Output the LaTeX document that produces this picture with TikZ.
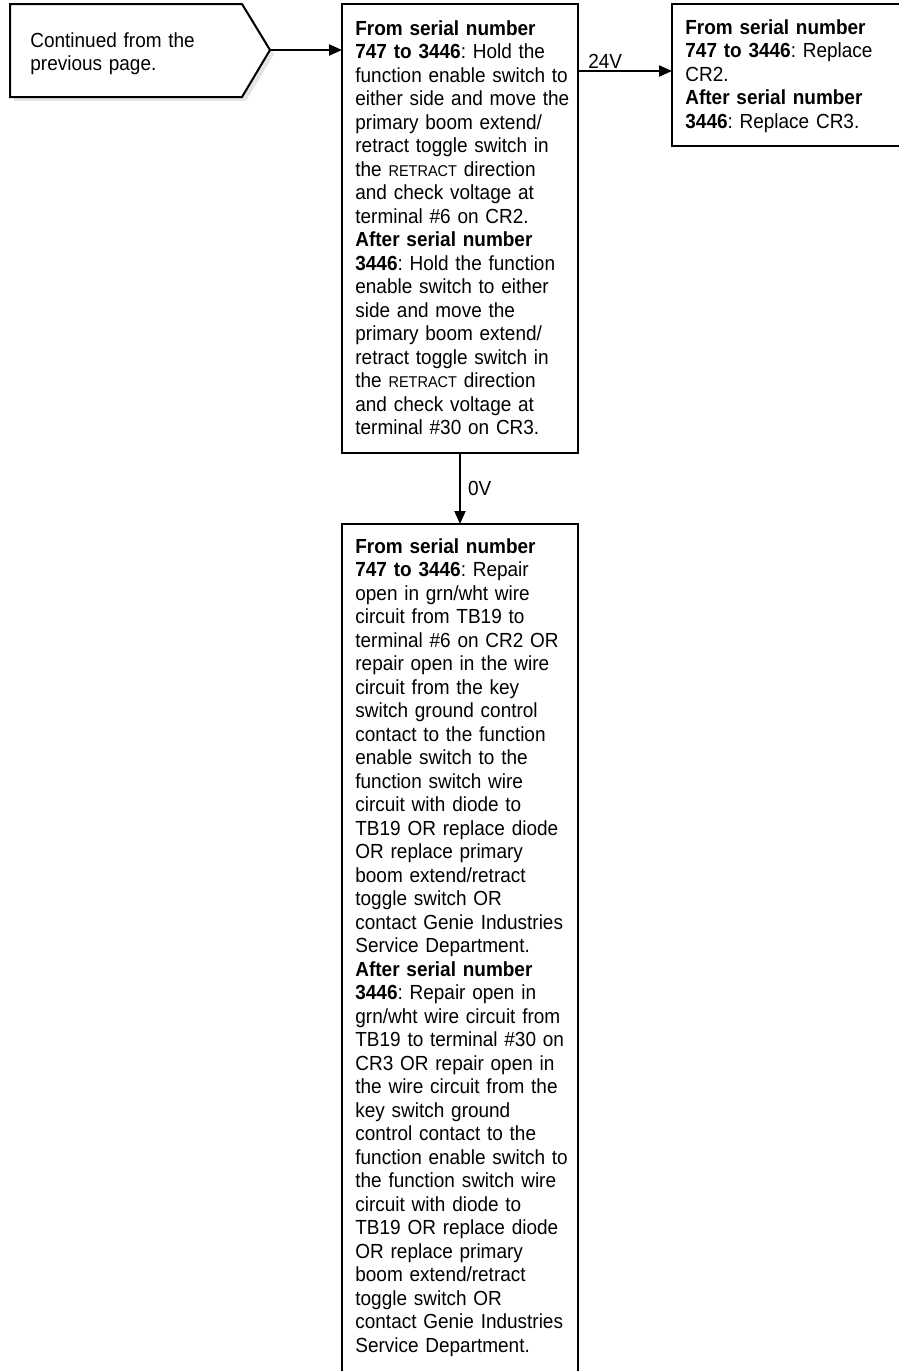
\documentclass[tikz,border=0pt]{standalone}
\usepackage{fontspec}
\setmainfont{Liberation Sans}[FakeStretch=0.93]
\usetikzlibrary{arrows.meta}
\frenchspacing
\newcommand{\smc}[1]{{\fontsize{7.8}{11.75}\selectfont #1}}
\begin{document}
\begin{tikzpicture}[x=0.5pt,y=-0.5pt,
  box/.style={draw, line width=1pt, inner sep=0pt, outer sep=0pt, anchor=north west},
  txt/.style={anchor=base west, inner sep=0pt, text width=140pt, align=left, font=\fontsize{10.2}{11.75}\selectfont},
  conn/.style={line width=1pt, -{Triangle[length=6.5pt,width=5.5pt]}},
  lbl/.style={font=\fontsize{10.2}{11.75}\selectfont, inner sep=0pt}]
\useasboundingbox (0,0) rectangle (899,1371);
\clip (0,0) rectangle (899,1371);
% start pentagon
\fill[black!10] (14,8) -- (246,8) -- (274,54) -- (246,101) -- (14,101) -- cycle;
\draw[line width=1pt, fill=white] (10,4) -- (242,4) -- (270,50) -- (242,97) -- (10,97) -- cycle;
\coordinate (p) at (270,50);
\node[txt] (t1) at (30,47) {Continued from the\\previous page.};
% boxes
\node[box, minimum width=118pt, minimum height=224.5pt] (b2) at (342,4) {};
\node[box, minimum width=120pt, minimum height=71pt] (b3) at (672,4) {};
\node[box, minimum width=118pt, minimum height=433pt] (b4) at (342,524) {};
\node[txt] (t2) at (355,35) {\textbf{From serial number}\\
\textbf{747 to 3446}: Hold the\\
function enable switch to\\
either side and move the\\
primary boom extend/\\
retract toggle switch in\\
the \smc{RETRACT} direction\\
and check voltage at\\
terminal \#6 on CR2.\\
\textbf{After serial number}\\
\textbf{3446}: Hold the function\\
enable switch to either\\
side and move the\\
primary boom extend/\\
retract toggle switch in\\
the \smc{RETRACT} direction\\
and check voltage at\\
terminal \#30 on CR3.};
\node[txt] (t3) at (685,34) {\textbf{From serial number}\\
\textbf{747 to 3446}: Replace\\
CR2.\\
\textbf{After serial number}\\
\textbf{3446}: Replace CR3.};
\node[txt] (t4) at (355,553) {\textbf{From serial number}\\
\textbf{747 to 3446}: Repair\\
open in grn/wht wire\\
circuit from TB19 to\\
terminal \#6 on CR2 OR\\
repair open in the wire\\
circuit from the key\\
switch ground control\\
contact to the function\\
enable switch to the\\
function switch wire\\
circuit with diode to\\
TB19 OR replace diode\\
OR replace primary\\
boom extend/retract\\
toggle switch OR\\
contact Genie Industries\\
Service Department.\\
\textbf{After serial number}\\
\textbf{3446}: Repair open in\\
grn/wht wire circuit from\\
TB19 to terminal \#30 on\\
CR3 OR repair open in\\
the wire circuit from the\\
key switch ground\\
control contact to the\\
function enable switch to\\
the function switch wire\\
circuit with diode to\\
TB19 OR replace diode\\
OR replace primary\\
boom extend/retract\\
toggle switch OR\\
contact Genie Industries\\
Service Department.};
% connectors
\draw[conn] (p) -- (p -| b2.west);
\draw[conn] ([yshift=-33.5pt]b2.north east) -- node[lbl, anchor=base, pos=0.29, yshift=1.5pt] (l24) {24V} ([yshift=-33.5pt]b3.north west);
\draw[conn] (b2.south) -- node[lbl, anchor=base west, pos=0.6, xshift=3.5pt] (l0) {0V} (b4.north);
\end{tikzpicture}
\end{document}
